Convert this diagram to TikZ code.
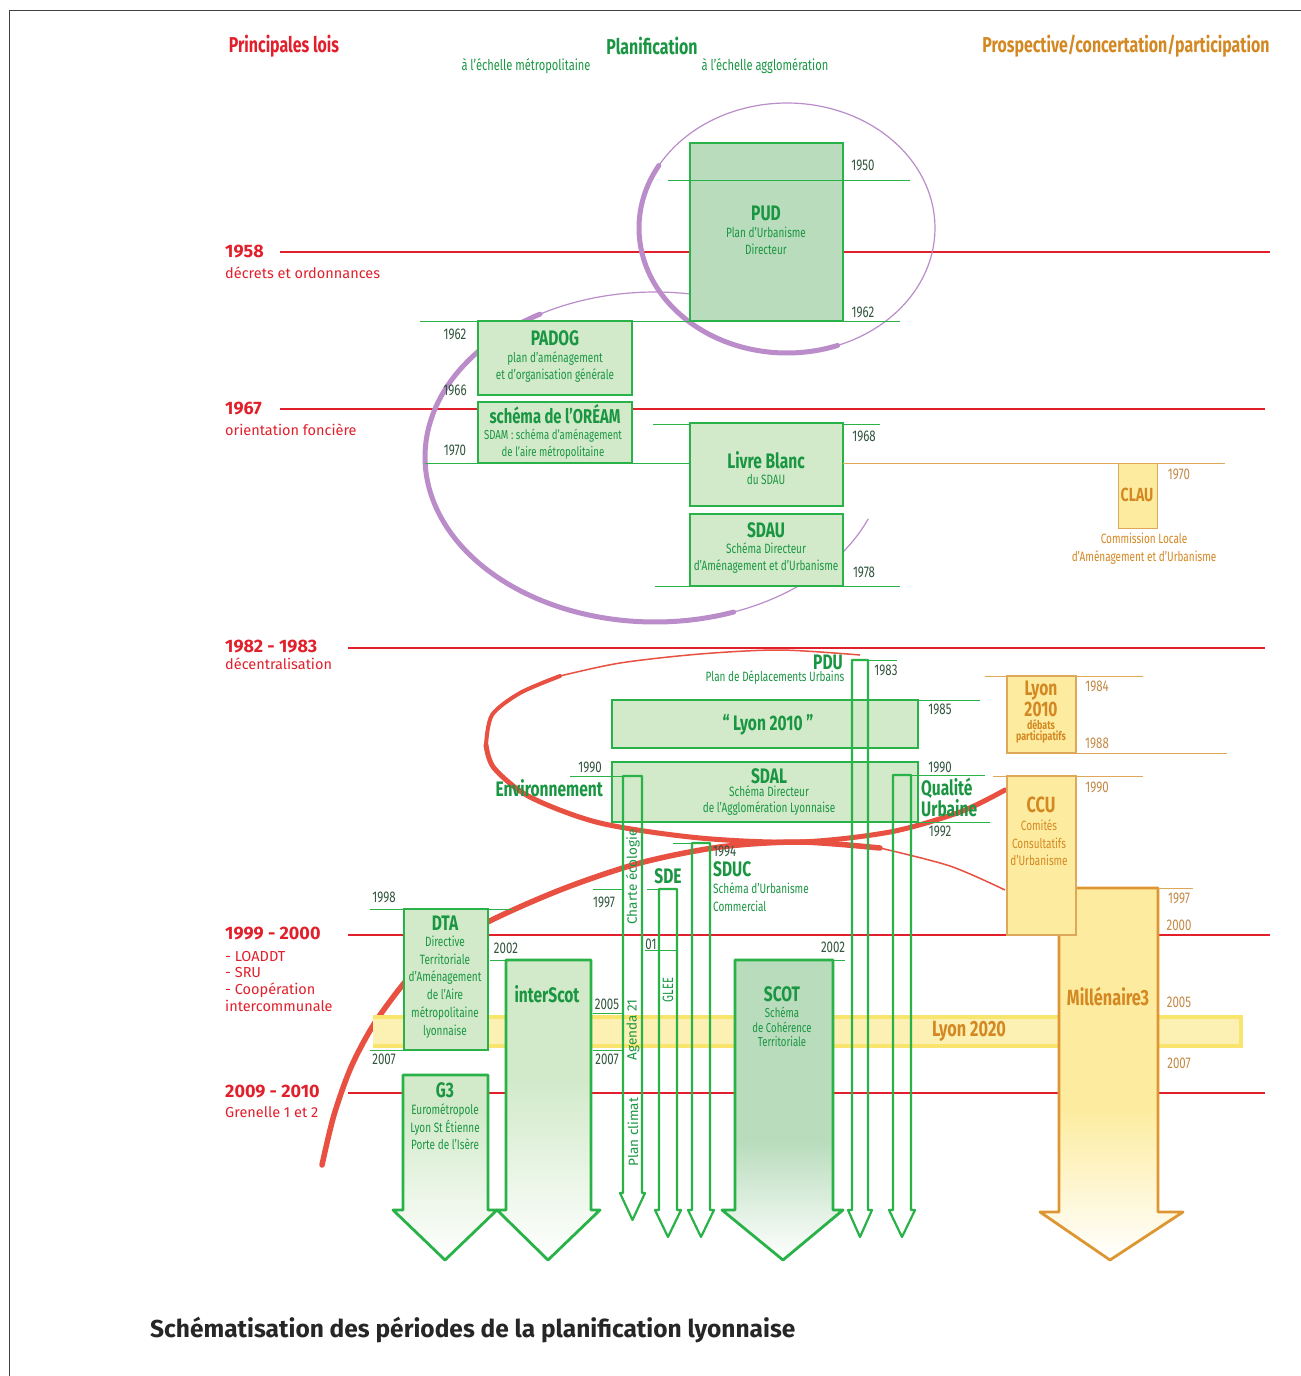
\documentclass[tikz,border=0pt]{standalone}
\usepackage{fontspec}
\setmainfont{Fira Sans}
\newfontfamily\condfont{Fira Sans}[FakeStretch=0.74]
\definecolor{lawred}{RGB}{226,32,44}
\definecolor{tgreen}{RGB}{26,150,66}
\definecolor{bgreen}{RGB}{40,178,72}
\definecolor{fgreen}{RGB}{210,234,202}
\definecolor{dgreen}{RGB}{184,220,188}
\definecolor{ygreen}{RGB}{50,85,62}
\definecolor{torange}{RGB}{212,136,34}
\definecolor{yorange}{RGB}{196,138,70}
\definecolor{lorange}{RGB}{222,168,90}
\definecolor{ofill}{RGB}{253,236,160}
\definecolor{oborder}{RGB}{222,150,50}
\definecolor{band}{RGB}{252,240,178}
\definecolor{bandedge}{RGB}{249,228,110}
\definecolor{purp}{RGB}{186,140,202}
\definecolor{rbrush}{RGB}{232,80,66}
\newcommand\narrowarr[6]{%
 \draw[thinarrow] (#1,#4) -- (#1,#3) -- (#2,#3) -- (#2,#4) -- ({#2+#5},#4) -- ({(#1+#2)/2},#6) -- ({#1-#5},#4) -- cycle;}
% big arrow: #1 xl, #2 xr, #3 top, #4 headtop, #5 head xl, #6 head xr, #7 tip y, #8 fill, #9 fade start
\newcommand\bigarr[9]{%
 \begin{scope}
  \clip (#1,#3) -- (#2,#3) -- (#2,#4) -- (#6,#4) -- ({(#5+#6)/2},#7) -- (#5,#4) -- (#1,#4) -- cycle;
  \fill[#8] (#5,#3) rectangle (#6,#9);
  \shade[top color=#8,bottom color=white] (#5,#9) rectangle (#6,#7);
 \end{scope}}
\begin{document}
\begin{tikzpicture}[x=1pt,y=-1pt,
  lawline/.style={draw=lawred,line width=1.3pt},
  lawyear/.style={font=\bfseries\fontsize{18}{19}\selectfont,text=lawred,anchor=west,inner sep=0pt},
  lawtext/.style={font=\fontsize{14.5}{15}\selectfont,text=lawred,anchor=west,inner sep=0pt},
  gbox/.style={draw=bgreen,line width=2.8pt,fill=fgreen},
  yline/.style={draw=bgreen,line width=0.8pt},
  oline/.style={draw=lorange,line width=0.8pt},
  year/.style={font=\condfont\fontsize{15.5}{16}\selectfont,text=ygreen,inner sep=0pt},
  oyear/.style={font=\condfont\fontsize{15.5}{16}\selectfont,text=yorange,inner sep=0pt},
  ttl/.style={font=\condfont\bfseries\fontsize{21}{22}\selectfont,text=tgreen,inner sep=0pt},
  sub/.style={font=\condfont\fontsize{13.5}{17.5}\selectfont,text=tgreen,inner sep=0pt,align=center},
  ottl/.style={font=\condfont\bfseries\fontsize{22}{23}\selectfont,text=torange,inner sep=0pt},
  osub/.style={font=\condfont\fontsize{13.5}{18}\selectfont,text=torange,inner sep=0pt,align=center},
  thinarrow/.style={draw=bgreen,line width=2.2pt,line join=round},
  rot/.style={font=\fontsize{13.5}{14}\selectfont,text=tgreen,rotate=90,inner sep=0pt},
  bigarrow/.style={draw=bgreen,line width=2.8pt,line join=round},
]
\useasboundingbox (0,0) rectangle (1301,1376);
\fill[white] (0,0) rectangle (1301,1376);
\draw[line width=1pt,black!75] (9,1376) -- (9,10) -- (1301,10);

% headers
\node[font=\condfont\bfseries\fontsize{21.5}{22}\selectfont,text=lawred] (hlois) at (284,46) {Principales lois};
\node[font=\condfont\bfseries\fontsize{21.5}{22}\selectfont,text=tgreen] (hplan) at (652,46) {Planification};
\node[font=\condfont\fontsize{15}{16}\selectfont,text=tgreen] (hmetro) at (526,66) {à l’échelle métropolitaine};
\node[font=\condfont\fontsize{15}{16}\selectfont,text=tgreen] (hagglo) at (765,66) {à l’échelle agglomération};
\node[font=\condfont\bfseries\fontsize{21.5}{22}\selectfont,text=torange] (hprosp) at (1126,46) {Prospective/concertation/participation};

% law lines
\draw[lawline] (280,252) -- (1270,252);
\draw[lawline] (280,409) -- (1265,409);
\draw[lawline] (348,648) -- (1265,648);
\draw[lawline] (348,935) -- (1270,935);
\draw[lawline] (348,1093) -- (1265,1093);
\node[lawyear] (l1958) at (225,252) {1958};
\node[lawtext] (t1958) at (225,273) {décrets et ordonnances};
\node[lawyear] (l1967) at (225,409) {1967};
\node[lawtext] (t1967) at (225,430) {orientation foncière};
\node[lawyear] (l1982) at (225,647) {1982 - 1983};
\node[lawtext] (t1982) at (225,664) {décentralisation};
\node[lawyear] (l1999) at (225,934) {1999 - 2000};
\node[lawtext] (t1999a) at (225,956) {- LOADDT};
\node[lawtext] (t1999b) at (225,972) {- SRU};
\node[lawtext] (t1999c) at (225,990) {- Coopération};
\node[lawtext] (t1999d) at (225,1006) {intercommunale};
\node[lawyear] (l2009) at (225,1092) {2009 - 2010};
\node[lawtext] (t2009) at (225,1112) {Grenelle 1 et 2};

% purple spirals
\draw[purp,line width=1.2pt,domain=0:360,samples=100,variable=\t,smooth] plot ({787+148*cos(\t)},{228+125*sin(\t)});
\draw[purp,line width=5pt,line cap=round,domain=70:210,samples=60,variable=\t,smooth] plot ({787+148*cos(\t)},{228+125*sin(\t)});
\draw[purp,line width=1.2pt,domain=22:285,samples=100,variable=\t,smooth] plot ({655+230*cos(\t)},{457+165*sin(\t)});
\draw[purp,line width=5pt,line cap=round,domain=70:240,samples=80,variable=\t,smooth] plot ({655+230*cos(\t)},{457+165*sin(\t)});

% red spirals
\draw[rbrush,line width=1.5pt] plot[smooth] coordinates {(560,676) (620,663) (700,654) (780,650) (860,655)};
\draw[rbrush,line width=4pt,line cap=round] plot[smooth] coordinates {(486,745) (492,715) (520,693) (560,676)};
\draw[rbrush,line width=5pt,line cap=round] plot[smooth] coordinates {(1005,790) (960,812) (890,832) (800,842) (700,838) (600,823) (530,797) (494,768) (486,745)};
\draw[rbrush,line width=5.5pt,line cap=round] plot[smooth] coordinates {(322,1165) (334,1115) (352,1065) (378,1018) (420,966) (480,926) (560,890) (640,863) (720,847) (800,842) (880,848)};
\draw[rbrush,line width=1.5pt] plot[smooth] coordinates {(880,848) (950,866) (1005,890)};

% Lyon 2020 band
\fill[band] (373,1015) rectangle (1243,1048);
\draw[bandedge,line width=3.5pt] (373,1017) -- (1243,1017) (373,1046) -- (1243,1046);
\draw[bandedge,line width=3.5pt] (1241,1015) -- (1241,1048);

% green boxes
\draw[gbox,fill=dgreen] (690,143) rectangle (843,321);
\draw[gbox] (478,321) rectangle (632,395);
\draw[gbox] (478,402) rectangle (632,463);
\draw[gbox] (690,423) rectangle (843,506);
\draw[gbox] (690,514) rectangle (843,586);
\draw[gbox] (612,700) rectangle (918,748);
\draw[gbox] (612,762) rectangle (918,822);
\draw[gbox] (404,909) rectangle (488,1050);

% year lines
\draw[yline] (668,180) -- (910,180);
\draw[yline] (420,321) -- (690,321) (843,321) -- (900,321);
\draw[yline] (425,463) -- (690,463);
\draw[yline] (653,424) -- (690,424) (843,424) -- (880,424);
\draw[yline] (655,586) -- (690,586) (843,586) -- (900,586);
\draw[oline] (843,463) -- (1225,463);
\draw[yline] (918,700) -- (980,700);
\draw[yline] (570,776) -- (623,776) (911,775) -- (985,775);
\draw[yline] (918,822) -- (990,822);
\draw[yline] (868,660) -- (897,660);
\draw[yline] (673,843) -- (692,843);
\draw[yline] (593,889) -- (623,889) (647,889) -- (659,889);
\draw[yline] (645,950) -- (677,950);
\draw[yline] (593,1013) -- (623,1013) (593,1050) -- (623,1050);
\draw[yline] (370,909) -- (513,909) (370,1050) -- (404,1050);
\draw[yline] (490,960) -- (506,960);
\draw[yline] (833,960) -- (845,960);

% big arrows
\bigarr{403}{488}{1075}{1210}{393}{497}{1260}{fgreen}{1110}
\draw[bigarrow] (403,1075) -- (488,1075) -- (488,1210) -- (497,1210) -- (445,1260) -- (393,1210) -- (403,1210) -- cycle;
\bigarr{506}{591}{960}{1210}{497}{600}{1260}{fgreen}{1080}
\draw[bigarrow] (506,960) -- (591,960) -- (591,1210) -- (600,1210) -- (548,1260) -- (497,1210) -- (506,1210) -- cycle;
\bigarr{735}{833}{960}{1210}{722}{843}{1260}{dgreen}{1140}
\draw[bigarrow] (735,960) -- (833,960) -- (833,1210) -- (843,1210) -- (783,1260) -- (722,1210) -- (735,1210) -- cycle;
\bigarr{1059}{1158}{888}{1212}{1040}{1183}{1260}{ofill}{1110}
\draw[oborder,line width=2.8pt,line join=round] (1059,888) -- (1158,888) -- (1158,1212) -- (1183,1212) -- (1110,1260) -- (1040,1212) -- (1059,1212) -- cycle;

% orange boxes
\draw[oline] (985,676) -- (1143,676) (1076,753) -- (1227,753) (993,776) -- (1143,776) (1158,888) -- (1193,888);
\draw[draw=lorange,line width=1.2pt,fill=ofill] (1007,676) rectangle (1076,753);
\draw[draw=lorange,line width=1.2pt,fill=ofill] (1007,776) rectangle (1076,935);
\draw[draw=lorange,line width=1pt,fill=ofill] (1118,463) rectangle (1157,528);

% narrow arrows
\narrowarr{623}{642}{776}{1193}{3}{1220}
\narrowarr{659}{677}{889}{1210}{4}{1237}
\narrowarr{692}{710}{843}{1210}{4}{1237}
\narrowarr{852}{868}{660}{1210}{4}{1237}
\narrowarr{893}{911}{775}{1210}{4}{1237}

% texts: green boxes
\node[ttl] (pud) at (766,213) {PUD};
\node[sub] (pudsub) at (766,241) {Plan d’Urbanisme\\Directeur};
\node[ttl] (padog) at (555,338) {PADOG};
\node[sub] (padogsub) at (555,367) {plan d’aménagement\\et d’organisation générale};
\node[ttl,font=\condfont\bfseries\fontsize{20}{21}\selectfont] (oream) at (555,414) {schéma de l’ORÉAM};
\node[sub,font=\condfont\fontsize{13}{17}\selectfont] (oreamsub) at (553,444) {SDAM : schéma d’aménagement\\de l’aire métropolitaine};
\node[ttl] (livre) at (766,460) {Livre Blanc};
\node[sub] (livresub) at (766,480) {du SDAU};
\node[ttl] (sdau) at (766,530) {SDAU};
\node[sub] (sdausub) at (766,558) {Schéma Directeur\\d’Aménagement et d’Urbanisme};
\node[year] (y1950) at (863,165) {1950};
\node[year] (y1962r) at (863,312) {1962};
\node[year] (y1962l) at (455,334) {1962};
\node[year] (y1966) at (455,390) {1966};
\node[year] (y1970) at (455,450) {1970};
\node[year] (y1968) at (864,436) {1968};
\node[year] (y1978) at (864,572) {1978};

\node[ottl,font=\condfont\bfseries\fontsize{19}{20}\selectfont] (clau) at (1137,495) {CLAU};
\node[oyear] (y1970o) at (1179,474) {1970};
\node[osub] (clausub) at (1144,549) {Commission Locale\\d’Aménagement et d’Urbanisme};

\node[ttl] (pdu) at (828,662) {PDU};
\node[sub] (pdusub) at (775,678) {Plan de Déplacements Urbains};
\node[year] (y1983) at (886,670) {1983};
\node[ttl] (lyon2010) at (768,725) {“ Lyon 2010 ”};
\node[year] (y1985) at (940,709) {1985};
\node[ttl] (sdal) at (769,776) {SDAL};
\node[sub,font=\condfont\fontsize{13.5}{16}\selectfont] (sdalsub) at (769,801) {Schéma Directeur\\de l’Agglomération Lyonnaise};
\node[year] (y1990l) at (590,767) {1990};
\node[year] (y1990r) at (940,767) {1990};
\node[year] (y1992) at (940,831) {1992};
\node[ttl,anchor=east] (env) at (603,788) {Environnement};
\node[ttl,anchor=west] (qual) at (921,788) {Qualité};
\node[ttl,anchor=west] (urb) at (921,808) {Urbaine};

\node[ttl] (sde) at (668,876) {SDE};
\node[year] (y1997g) at (604,902) {1997};
\node[year] (y01) at (651,944) {01};
\node[rot,font=\condfont\fontsize{15}{16}\selectfont] (glee) at (668,990) {GLEE};
\node[year,anchor=west] (y1994) at (713,851) {1994};
\node[ttl,anchor=west] (sduc) at (713,869) {SDUC};
\node[sub,anchor=west] (sduca) at (713,888) {Schéma d’Urbanisme};
\node[sub,anchor=west] (sducb) at (713,906) {Commercial};
\node[rot] (charte) at (633,877) {Charte écologie};
\node[rot] (agenda) at (633,1030) {Agenda 21};
\node[rot] (climat) at (633,1132) {Plan climat};

\node[ttl] (dta) at (445,923) {DTA};
\node[sub,font=\condfont\fontsize{13.5}{17.8}\selectfont] (dtasub) at (445,987) {Directive\\Territoriale\\d’Aménagement\\de l’Aire\\métropolitaine\\lyonnaise};
\node[year] (y1998) at (384,897) {1998};
\node[year] (y2007a) at (384,1059) {2007};
\node[year] (y2002a) at (506,948) {2002};
\node[year] (y2005a) at (607,1004) {2005};
\node[year] (y2007b) at (607,1059) {2007};
\node[year] (y2002b) at (833,947) {2002};
\node[ttl] (inter) at (547,994) {interScot};
\node[ttl] (g3) at (445,1090) {G3};
\node[sub] (g3sub) at (445,1127) {Eurométropole\\Lyon St Étienne\\Porte de l’Isère};
\node[ttl] (scot) at (782,994) {SCOT};
\node[sub,font=\condfont\fontsize{13}{14.5}\selectfont] (scotsub) at (782,1027) {Schéma\\de Cohérence\\Territoriale};

% orange texts
\node[ottl] (l2020) at (969,1031) {Lyon 2020};
\node[ottl] (mill) at (1108,996) {Millénaire3};
\node[ottl,font=\condfont\bfseries\fontsize{21}{22}\selectfont] (ly) at (1041,691) {Lyon};
\node[ottl,font=\condfont\bfseries\fontsize{21}{22}\selectfont] (ly2010) at (1041,709) {2010};
\node[ottl,font=\condfont\bfseries\fontsize{12}{12}\selectfont] (deb) at (1041,725) {débats};
\node[ottl,font=\condfont\bfseries\fontsize{12}{12}\selectfont] (part) at (1041,737) {participatifs};
\node[ottl] (ccu) at (1041,805) {CCU};
\node[osub,font=\condfont\fontsize{13.5}{17.5}\selectfont] (ccusub) at (1039,843) {Comités\\Consultatifs\\d’Urbanisme};
\node[oyear] (y1984) at (1097,686) {1984};
\node[oyear] (y1988) at (1097,743) {1988};
\node[oyear] (y1990o) at (1097,787) {1990};
\node[oyear] (y1997o) at (1179,898) {1997};
\node[oyear] (y2000o) at (1179,925) {2000};
\node[oyear] (y2005o) at (1179,1002) {2005};
\node[oyear] (y2007o) at (1179,1063) {2007};

% caption
\node[font=\bfseries\fontsize{24.5}{25}\selectfont,text=black!85,anchor=west,inner sep=0pt] (caption) at (150,1330) {Schématisation des périodes de la planification lyonnaise};
\end{tikzpicture}
\end{document}
